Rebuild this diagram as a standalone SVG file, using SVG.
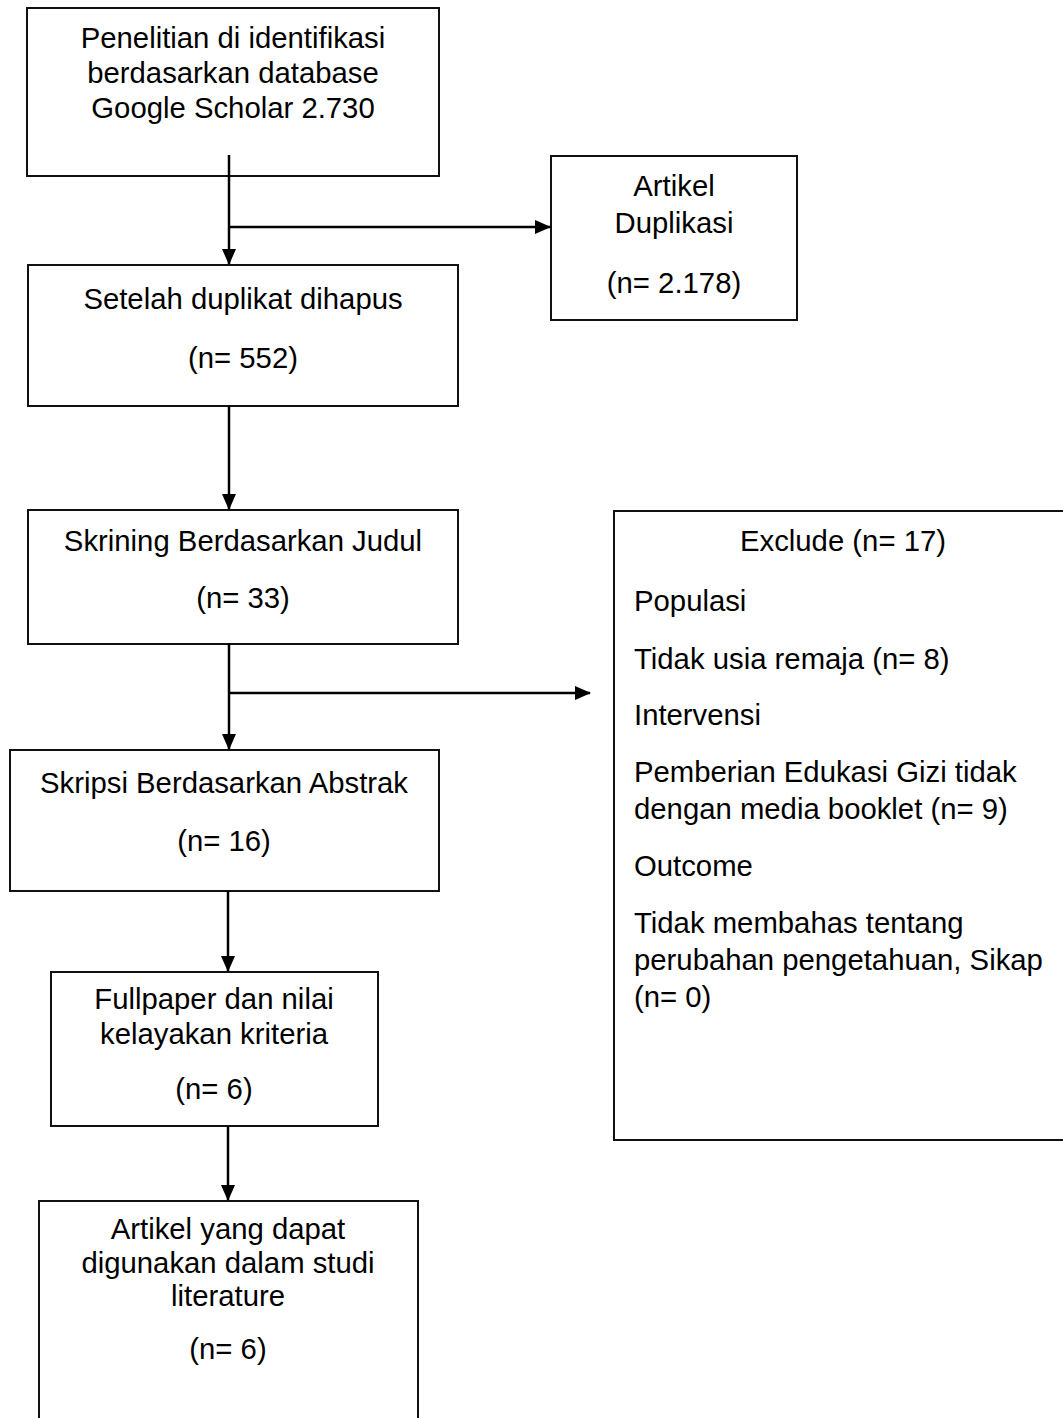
<svg xmlns="http://www.w3.org/2000/svg" width="1063" height="1418" viewBox="0 0 1063 1418">
<defs>
<marker id="ah" markerWidth="16" markerHeight="14" refX="15" refY="7" orient="auto" markerUnits="userSpaceOnUse">
<path d="M0,0 L16,7 L0,14 Z" fill="#000"/>
</marker>
<style>
.box{fill:#fff;stroke:#111;stroke-width:2}
.t{font-family:"Liberation Sans",Arial,sans-serif;font-size:29.3px;fill:#000;text-anchor:middle}
.l{font-family:"Liberation Sans",Arial,sans-serif;font-size:29.3px;fill:#000;text-anchor:start}
.c{fill:none;stroke:#000;stroke-width:2.5}
</style>
</defs>
<rect width="1063" height="1418" fill="#fff"/>
<g id="n1">
<rect class="box" x="27" y="8" width="412" height="168"/>
<text class="t" x="233" y="48">Penelitian di identifikasi</text>
<text class="t" x="233" y="83">berdasarkan database</text>
<text class="t" x="233" y="118">Google Scholar 2.730</text>
</g>
<g id="n2">
<rect class="box" x="551" y="156" width="246" height="164"/>
<text class="t" x="674" y="196">Artikel</text>
<text class="t" x="674" y="233">Duplikasi</text>
<text class="t" x="674" y="293">(n= 2.178)</text>
</g>
<g id="n3">
<rect class="box" x="28" y="265" width="430" height="141"/>
<text class="t" x="243" y="309">Setelah duplikat dihapus</text>
<text class="t" x="243" y="368">(n= 552)</text>
</g>
<g id="n4">
<rect class="box" x="28" y="510" width="430" height="134"/>
<text class="t" x="243" y="551">Skrining Berdasarkan Judul</text>
<text class="t" x="243" y="608">(n= 33)</text>
</g>
<g id="n5">
<rect class="box" x="10" y="750" width="429" height="141"/>
<text class="t" x="224" y="793">Skripsi Berdasarkan Abstrak</text>
<text class="t" x="224" y="851">(n= 16)</text>
</g>
<g id="n6">
<rect class="box" x="614" y="511" width="460" height="629"/>
<text class="t" x="843" y="551">Exclude (n= 17)</text>
<text class="l" x="634" y="611">Populasi</text>
<text class="l" x="634" y="669">Tidak usia remaja (n= 8)</text>
<text class="l" x="634" y="725">Intervensi</text>
<text class="l" x="634" y="782">Pemberian Edukasi Gizi tidak</text>
<text class="l" x="634" y="819">dengan media booklet (n= 9)</text>
<text class="l" x="634" y="876">Outcome</text>
<text class="l" x="634" y="933">Tidak membahas tentang</text>
<text class="l" x="634" y="970">perubahan pengetahuan, Sikap</text>
<text class="l" x="634" y="1007">(n= 0)</text>
</g>
<g id="n7">
<rect class="box" x="51" y="972" width="327" height="154"/>
<text class="t" x="214" y="1009">Fullpaper dan nilai</text>
<text class="t" x="214" y="1044">kelayakan kriteria</text>
<text class="t" x="214" y="1099">(n= 6)</text>
</g>
<g id="n8">
<path class="box" d="M39,1430 V1201 H418 V1430"/>
<text class="t" x="228" y="1239">Artikel yang dapat</text>
<text class="t" x="228" y="1273">digunakan dalam studi</text>
<text class="t" x="228" y="1306">literature</text>
<text class="t" x="228" y="1359">(n= 6)</text>
</g>
<g id="connectors">
<path class="c" d="M229,155 V264" marker-end="url(#ah)"/>
<path class="c" d="M229,227 H550" marker-end="url(#ah)"/>
<path class="c" d="M229,406 V509" marker-end="url(#ah)"/>
<path class="c" d="M229,644 V749" marker-end="url(#ah)"/>
<path class="c" d="M229,693 H590" marker-end="url(#ah)"/>
<path class="c" d="M228,891 V971" marker-end="url(#ah)"/>
<path class="c" d="M228,1126 V1200" marker-end="url(#ah)"/>
</g>
</svg>
